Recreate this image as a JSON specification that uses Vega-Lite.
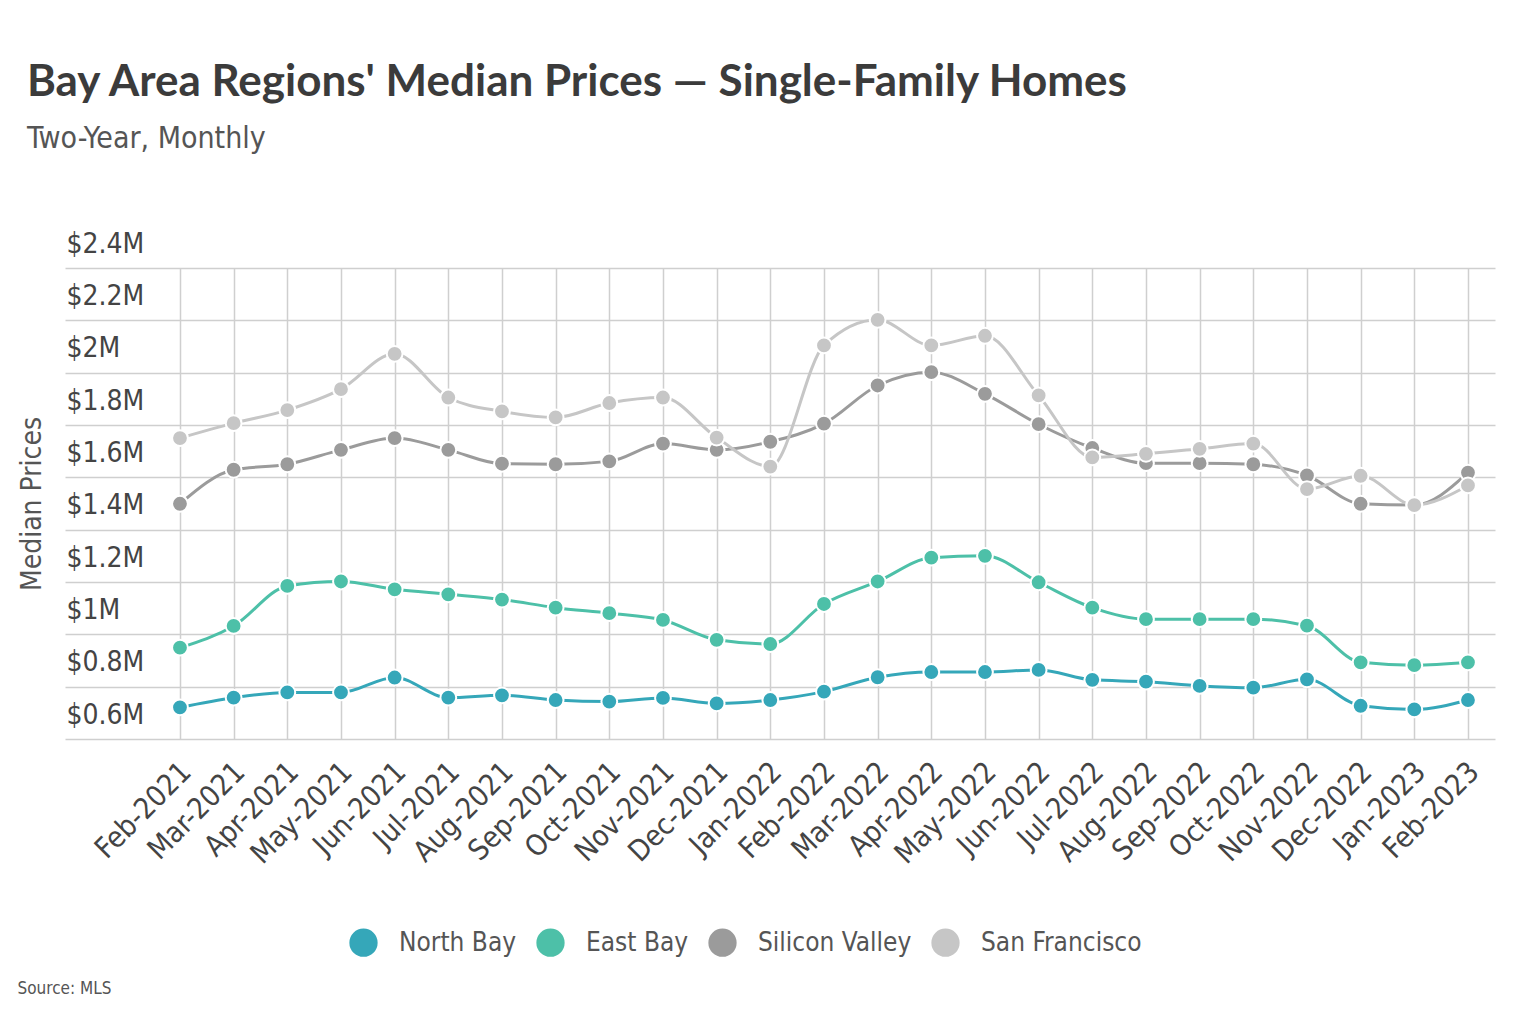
{
  "$schema": "https://vega.github.io/schema/vega-lite/v6.json",
  "width": 1430,
  "height": 471,
  "autosize": {"type": "none"},
  "padding": {"left": 65, "top": 268, "right": 39, "bottom": 295},
  "background": "white",
  "config": {
    "view": {"stroke": null},
    "font": "DejaVu Sans Condensed, sans-serif"
  },
  "title": {
    "text": "Bay Area Regions' Median Prices — Single-Family Homes",
    "subtitle": "Two-Year, Monthly",
    "anchor": "start",
    "frame": "group",
    "dx": -38,
    "offset": 76,
    "font": "Lato",
    "fontSize": 44,
    "fontWeight": "bold",
    "color": "#3b3b3b",
    "subtitleFont": "DejaVu Sans Condensed, sans-serif",
    "subtitleFontSize": 30,
    "subtitleColor": "#555555",
    "subtitlePadding": 19
  },
  "data": {
    "values": [
      {"month": "Feb-2021", "region": "North Bay", "price": 721000},
      {"month": "Mar-2021", "region": "North Bay", "price": 758000},
      {"month": "Apr-2021", "region": "North Bay", "price": 778000},
      {"month": "May-2021", "region": "North Bay", "price": 778000},
      {"month": "Jun-2021", "region": "North Bay", "price": 835000},
      {"month": "Jul-2021", "region": "North Bay", "price": 758000},
      {"month": "Aug-2021", "region": "North Bay", "price": 767000},
      {"month": "Sep-2021", "region": "North Bay", "price": 749000},
      {"month": "Oct-2021", "region": "North Bay", "price": 743000},
      {"month": "Nov-2021", "region": "North Bay", "price": 757000},
      {"month": "Dec-2021", "region": "North Bay", "price": 736000},
      {"month": "Jan-2022", "region": "North Bay", "price": 749000},
      {"month": "Feb-2022", "region": "North Bay", "price": 781000},
      {"month": "Mar-2022", "region": "North Bay", "price": 836000},
      {"month": "Apr-2022", "region": "North Bay", "price": 856000},
      {"month": "May-2022", "region": "North Bay", "price": 856000},
      {"month": "Jun-2022", "region": "North Bay", "price": 864000},
      {"month": "Jul-2022", "region": "North Bay", "price": 826000},
      {"month": "Aug-2022", "region": "North Bay", "price": 819000},
      {"month": "Sep-2022", "region": "North Bay", "price": 803000},
      {"month": "Oct-2022", "region": "North Bay", "price": 796000},
      {"month": "Nov-2022", "region": "North Bay", "price": 828000},
      {"month": "Dec-2022", "region": "North Bay", "price": 727000},
      {"month": "Jan-2023", "region": "North Bay", "price": 713000},
      {"month": "Feb-2023", "region": "North Bay", "price": 749000},
      {"month": "Feb-2021", "region": "East Bay", "price": 949000},
      {"month": "Mar-2021", "region": "East Bay", "price": 1032000},
      {"month": "Apr-2021", "region": "East Bay", "price": 1185000},
      {"month": "May-2021", "region": "East Bay", "price": 1202000},
      {"month": "Jun-2021", "region": "East Bay", "price": 1172000},
      {"month": "Jul-2021", "region": "East Bay", "price": 1153000},
      {"month": "Aug-2021", "region": "East Bay", "price": 1133000},
      {"month": "Sep-2021", "region": "East Bay", "price": 1102000},
      {"month": "Oct-2021", "region": "East Bay", "price": 1081000},
      {"month": "Nov-2021", "region": "East Bay", "price": 1055000},
      {"month": "Dec-2021", "region": "East Bay", "price": 979000},
      {"month": "Jan-2022", "region": "East Bay", "price": 963000},
      {"month": "Feb-2022", "region": "East Bay", "price": 1116000},
      {"month": "Mar-2022", "region": "East Bay", "price": 1202000},
      {"month": "Apr-2022", "region": "East Bay", "price": 1293000},
      {"month": "May-2022", "region": "East Bay", "price": 1300000},
      {"month": "Jun-2022", "region": "East Bay", "price": 1199000},
      {"month": "Jul-2022", "region": "East Bay", "price": 1102000},
      {"month": "Aug-2022", "region": "East Bay", "price": 1058000},
      {"month": "Sep-2022", "region": "East Bay", "price": 1058000},
      {"month": "Oct-2022", "region": "East Bay", "price": 1058000},
      {"month": "Nov-2022", "region": "East Bay", "price": 1033000},
      {"month": "Dec-2022", "region": "East Bay", "price": 893000},
      {"month": "Jan-2023", "region": "East Bay", "price": 882000},
      {"month": "Feb-2023", "region": "East Bay", "price": 893000},
      {"month": "Feb-2021", "region": "Silicon Valley", "price": 1499000},
      {"month": "Mar-2021", "region": "Silicon Valley", "price": 1629000},
      {"month": "Apr-2021", "region": "Silicon Valley", "price": 1650000},
      {"month": "May-2021", "region": "Silicon Valley", "price": 1705000},
      {"month": "Jun-2021", "region": "Silicon Valley", "price": 1750000},
      {"month": "Jul-2021", "region": "Silicon Valley", "price": 1705000},
      {"month": "Aug-2021", "region": "Silicon Valley", "price": 1652000},
      {"month": "Sep-2021", "region": "Silicon Valley", "price": 1650000},
      {"month": "Oct-2021", "region": "Silicon Valley", "price": 1661000},
      {"month": "Nov-2021", "region": "Silicon Valley", "price": 1729000},
      {"month": "Dec-2021", "region": "Silicon Valley", "price": 1705000},
      {"month": "Jan-2022", "region": "Silicon Valley", "price": 1736000},
      {"month": "Feb-2022", "region": "Silicon Valley", "price": 1805000},
      {"month": "Mar-2022", "region": "Silicon Valley", "price": 1951000},
      {"month": "Apr-2022", "region": "Silicon Valley", "price": 2002000},
      {"month": "May-2022", "region": "Silicon Valley", "price": 1919000},
      {"month": "Jun-2022", "region": "Silicon Valley", "price": 1803000},
      {"month": "Jul-2022", "region": "Silicon Valley", "price": 1712000},
      {"month": "Aug-2022", "region": "Silicon Valley", "price": 1654000},
      {"month": "Sep-2022", "region": "Silicon Valley", "price": 1654000},
      {"month": "Oct-2022", "region": "Silicon Valley", "price": 1650000},
      {"month": "Nov-2022", "region": "Silicon Valley", "price": 1607000},
      {"month": "Dec-2022", "region": "Silicon Valley", "price": 1499000},
      {"month": "Jan-2023", "region": "Silicon Valley", "price": 1494000},
      {"month": "Feb-2023", "region": "Silicon Valley", "price": 1618000},
      {"month": "Feb-2021", "region": "San Francisco", "price": 1750000},
      {"month": "Mar-2021", "region": "San Francisco", "price": 1807000},
      {"month": "Apr-2021", "region": "San Francisco", "price": 1857000},
      {"month": "May-2021", "region": "San Francisco", "price": 1937000},
      {"month": "Jun-2021", "region": "San Francisco", "price": 2072000},
      {"month": "Jul-2021", "region": "San Francisco", "price": 1905000},
      {"month": "Aug-2021", "region": "San Francisco", "price": 1852000},
      {"month": "Sep-2021", "region": "San Francisco", "price": 1829000},
      {"month": "Oct-2021", "region": "San Francisco", "price": 1884000},
      {"month": "Nov-2021", "region": "San Francisco", "price": 1905000},
      {"month": "Dec-2021", "region": "San Francisco", "price": 1752000},
      {"month": "Jan-2022", "region": "San Francisco", "price": 1641000},
      {"month": "Feb-2022", "region": "San Francisco", "price": 2104000},
      {"month": "Mar-2022", "region": "San Francisco", "price": 2202000},
      {"month": "Apr-2022", "region": "San Francisco", "price": 2104000},
      {"month": "May-2022", "region": "San Francisco", "price": 2141000},
      {"month": "Jun-2022", "region": "San Francisco", "price": 1913000},
      {"month": "Jul-2022", "region": "San Francisco", "price": 1676000},
      {"month": "Aug-2022", "region": "San Francisco", "price": 1690000},
      {"month": "Sep-2022", "region": "San Francisco", "price": 1709000},
      {"month": "Oct-2022", "region": "San Francisco", "price": 1729000},
      {"month": "Nov-2022", "region": "San Francisco", "price": 1555000},
      {"month": "Dec-2022", "region": "San Francisco", "price": 1606000},
      {"month": "Jan-2023", "region": "San Francisco", "price": 1494000},
      {"month": "Feb-2023", "region": "San Francisco", "price": 1569000}
    ]
  },
  "encoding": {
    "x": {
      "field": "month",
      "type": "ordinal",
      "scale": {
        "type": "point",
        "domain": [" ", "Feb-2021", "Mar-2021", "Apr-2021", "May-2021", "Jun-2021", "Jul-2021", "Aug-2021", "Sep-2021", "Oct-2021", "Nov-2021", "Dec-2021", "Jan-2022", "Feb-2022", "Mar-2022", "Apr-2022", "May-2022", "Jun-2022", "Jul-2022", "Aug-2022", "Sep-2022", "Oct-2022", "Nov-2022", "Dec-2022", "Jan-2023", "Feb-2023"],
        "padding": 0.823,
        "align": 0.694
      },
      "axis": {
        "values": ["Feb-2021", "Mar-2021", "Apr-2021", "May-2021", "Jun-2021", "Jul-2021", "Aug-2021", "Sep-2021", "Oct-2021", "Nov-2021", "Dec-2021", "Jan-2022", "Feb-2022", "Mar-2022", "Apr-2022", "May-2022", "Jun-2022", "Jul-2022", "Aug-2022", "Sep-2022", "Oct-2022", "Nov-2022", "Dec-2022", "Jan-2023", "Feb-2023"],
        "title": "Source: MLS",
        "titleX": -48,
        "titleY": 249,
        "titleAlign": "left",
        "titleBaseline": "middle",
        "titleFontSize": 17,
        "titleFontWeight": "normal",
        "titleColor": "#555555",
        "labelAngle": -45,
        "labelAlign": "right",
        "labelBaseline": "middle",
        "labelFontSize": 29,
        "labelColor": "#444444",
        "labelPadding": 28,
        "labelOffset": 6,
        "ticks": false,
        "tickSize": 0,
        "domain": false,
        "grid": true,
        "gridColor": "#cfcfcf",
        "gridWidth": 1.5
      }
    },
    "y": {
      "field": "price",
      "type": "quantitative",
      "scale": {"domain": [600000, 2400000], "nice": false, "zero": false},
      "axis": {
        "title": "Median Prices",
        "titleX": -33,
        "titleBaseline": "middle",
        "titleFontSize": 28,
        "titleFontWeight": "normal",
        "titleColor": "#555555",
        "values": [600000, 800000, 1000000, 1200000, 1400000, 1600000, 1800000, 2000000, 2200000, 2400000],
        "labelExpr": "'$' + format(datum.value / 1000000, '.1~f') + 'M'",
        "labelAlign": "left",
        "labelBaseline": "middle",
        "labelPadding": -1,
        "labelOffset": -24,
        "labelFontSize": 28,
        "labelColor": "#444444",
        "ticks": false,
        "tickSize": 0,
        "domain": false,
        "grid": true,
        "gridColor": "#cfcfcf",
        "gridWidth": 1.5
      }
    }
  },
  "layer": [
    {
      "mark": {"type": "line", "strokeWidth": 3, "interpolate": "monotone"},
      "encoding": {
        "stroke": {
          "field": "region",
          "type": "nominal",
          "legend": null,
          "scale": {
            "domain": ["San Francisco", "Silicon Valley", "East Bay", "North Bay"],
            "range": ["#c6c6c6", "#9b9b9b", "#4dc0a8", "#35a7b9"]
          }
        }
      }
    },
    {
      "mark": {"type": "point", "filled": true, "opacity": 1, "size": 250, "stroke": "white", "strokeWidth": 2},
      "encoding": {
        "color": {
          "field": "region",
          "type": "nominal",
          "scale": {
            "domain": ["North Bay", "East Bay", "Silicon Valley", "San Francisco"],
            "range": ["#35a7b9", "#4dc0a8", "#9b9b9b", "#c6c6c6"]
          },
          "legend": {
            "title": null,
            "orient": "none",
            "direction": "horizontal",
            "legendX": 284,
            "legendY": 660,
            "symbolType": "circle",
            "symbolSize": 800,
            "symbolStrokeWidth": 0,
            "symbolOpacity": 1,
            "labelFontSize": 26,
            "labelLimit": 400,
            "labelColor": "#555555",
            "labelOffset": 21,
            "columnPadding": 19
          }
        }
      }
    }
  ]
}
